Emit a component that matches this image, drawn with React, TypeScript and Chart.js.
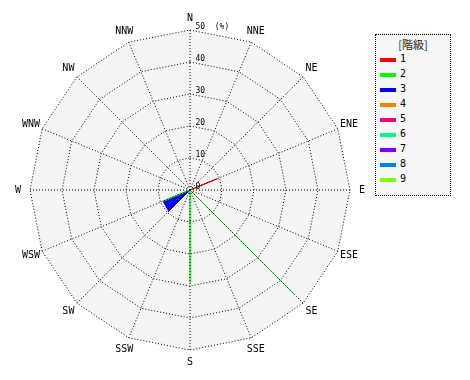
import React, { useEffect, useRef } from "react";
import { Chart, registerables } from "chart.js";

Chart.register(...registerables);

const directions = ["N", "NNE", "NE", "ENE", "E", "ESE", "SE", "SSE", "S", "SSW", "SW", "WSW", "W", "WNW", "NW", "NNW"];
const classLabels = ["1", "2", "3", "4", "5", "6", "7", "8", "9"];
const classColors = ["#ff0000", "#00ff00", "#0000ff", "#ff8000", "#ff0080", "#00ff80", "#8000ff", "#0080ff", "#80ff00"];
const legendTitle = "[階級]";

// frequency (%) per direction, N -> NNW clockwise
const class1 = [0, 0, 0, 9.3, 0, 0, 0, 0, 0, 0, 0, 0, 0, 0, 0, 0];
const class2 = [0, 0, 0, 0, 0, 0, 46, 0, 29, 0, 0, 9, 0, 0, 0, 0];
const class3 = [0, 0, 0, 0, 0, 0, 0, 0, 0, 0, 9.4, 9.1, 0, 0, 0, 0];
const class4 = [0, 0, 0, 0, 0, 0, 0, 0, 0, 0, 0, 0, 0, 0, 0, 0];
const class5 = [0, 0, 0, 0, 0, 0, 0, 0, 0, 0, 0, 0, 0, 0, 0, 0];
const class6 = [0, 0, 0, 0, 0, 0, 0, 0, 0, 0, 0, 0, 0, 0, 0, 0];
const class7 = [0, 0, 0, 0, 0, 0, 0, 0, 0, 0, 0, 0, 0, 0, 0, 0];
const class8 = [0, 0, 0, 0, 0, 0, 0, 0, 0, 0, 0, 0, 0, 0, 0, 0];
const class9 = [0, 0, 0, 0, 0, 0, 0, 0, 0, 0, 0, 0, 0, 0, 0, 0];
const classValues = [class1, class2, class3, class4, class5, class6, class7, class8, class9];

const tickMin = 0;
const tickMax = 50;
const tickStep = 10;
const tickUnit = "(%)";

const MONO = "'DejaVu Sans Mono', monospace";
const PLOT_BG = "#f5f5f5";

const roseBackground = {
  id: "roseBackground",
  beforeDatasetsDraw(chart: any) {
    const scale = chart.scales.r;
    const ctx = chart.ctx;
    const r = scale.getDistanceFromCenterForValue(scale.max);
    ctx.save();
    ctx.fillStyle = PLOT_BG;
    ctx.beginPath();
    directions.forEach((_, i) => {
      const p = scale.getPointPosition(i, r);
      if (i === 0) ctx.moveTo(p.x, p.y);
      else ctx.lineTo(p.x, p.y);
    });
    ctx.closePath();
    ctx.fill();
    ctx.restore();
  },
};

const roseLabels = {
  id: "roseLabels",
  afterDraw(chart: any) {
    const scale = chart.scales.r;
    const ctx = chart.ctx;
    ctx.save();
    ctx.font = `10px ${MONO}`;
    ctx.fillStyle = "#000";
    ctx.textAlign = "center";
    ctx.textBaseline = "middle";
    directions.forEach((d, i) => {
      const p = scale.getPointPosition(i, scale.drawingArea + 12);
      ctx.fillText(d, p.x, p.y);
    });
    ctx.font = `8px ${MONO}`;
    ctx.textAlign = "left";
    scale.ticks.forEach((t: any, i: number) => {
      const dist = scale.getDistanceFromCenterForValue(t.value);
      const label = i === scale.ticks.length - 1 ? `${t.value}  ${tickUnit}` : `${t.value}`;
      ctx.fillText(label, scale.xCenter + 5.5, scale.yCenter - dist - 3.5);
    });
    ctx.restore();
  },
};

export default function App() {
  const ref = useRef<HTMLCanvasElement>(null);

  useEffect(() => {
    if (!ref.current) return;
    const chart = new Chart(ref.current, {
      type: "radar",
      data: {
        labels: directions,
        datasets: classValues.map((vals, i) => ({
          label: classLabels[i],
          data: vals,
          borderColor: classColors[i],
          backgroundColor: classColors[i],
          borderWidth: 1,
          pointRadius: 0,
          pointHoverRadius: 0,
          fill: "start",
          tension: 0,
        })),
      },
      options: {
        responsive: false,
        animation: false,
        layout: { padding: { left: 30, top: 30, right: 120, bottom: 30 } },
        plugins: { legend: { display: false }, tooltip: { enabled: false } },
        scales: {
          r: {
            min: tickMin,
            max: tickMax,
            ticks: { display: false, stepSize: tickStep },
            pointLabels: { display: false },
            grid: { color: "#000", lineWidth: 1, z: 1 },
            border: { dash: [1, 2] },
            angleLines: { color: "#000", lineWidth: 1, borderDash: [1, 2] },
          },
        },
      },
      plugins: [roseBackground, roseLabels],
    });
    return () => chart.destroy();
  }, []);

  return (
    <div style={{ position: "absolute", left: 0, top: 0, width: 470, height: 380, background: "#fff" }}>
      <canvas ref={ref} width={470} height={380} style={{ position: "absolute", left: 0, top: 0 }} />
      <div
        style={{
          position: "absolute",
          left: 375,
          top: 34,
          width: 76,
          height: 162,
          boxSizing: "border-box",
          border: "1px dotted #000",
          background: "#f7f7f7",
        }}
      >
        <div
          style={{
            position: "absolute",
            left: 0,
            top: 3,
            width: "100%",
            textAlign: "center",
            font: "11px 'Noto Sans CJK JP', sans-serif",
            lineHeight: "12px",
            color: "#222",
          }}
        >
          {legendTitle}
        </div>
        {classLabels.map((lab, i) => (
          <div key={lab} style={{ position: "absolute", left: 4, top: 18 + i * 15, height: 12, width: 60 }}>
            <div style={{ position: "absolute", left: 0, top: 5, width: 16, height: 4, background: classColors[i] }} />
            <div
              style={{
                position: "absolute",
                left: 20,
                top: 0,
                font: `10px ${MONO}`,
                lineHeight: "12px",
                color: "#000",
              }}
            >
              {lab}
            </div>
          </div>
        ))}
      </div>
    </div>
  );
}
